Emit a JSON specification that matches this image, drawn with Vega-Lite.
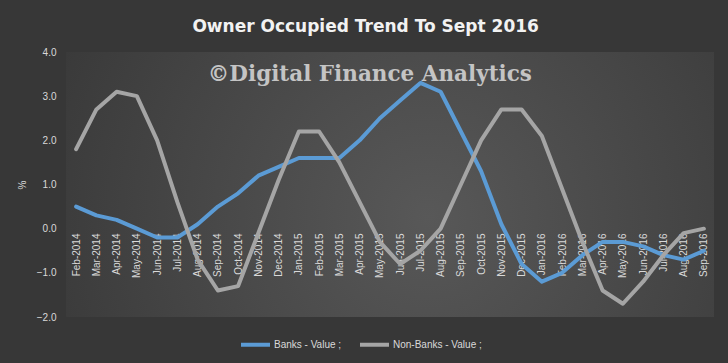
{
  "$schema": "https://vega.github.io/schema/vega-lite/v6.json",
  "width": 648,
  "height": 265,
  "autosize": {"type": "none"},
  "padding": {"left": 66, "top": 52, "right": 14, "bottom": 46},
  "background": "#373737",
  "config": {
    "font": "Liberation Sans",
    "view": {
      "stroke": null,
      "fill": {
        "gradient": "radial",
        "x1": 0.56, "y1": 0.55, "r1": 0,
        "x2": 0.56, "y2": 0.55, "r2": 0.68,
        "stops": [
          {"offset": 0, "color": "#585858"},
          {"offset": 1, "color": "#373737"}
        ]
      }
    }
  },
  "title": {
    "text": "Owner Occupied Trend To Sept 2016",
    "font": "DejaVu Sans",
    "fontSize": 17,
    "fontWeight": "bold",
    "color": "#F2F2F2",
    "anchor": "middle",
    "frame": "bounds",
    "offset": 11
  },
  "layer": [
    {
      "data": {"values": [{"label": "©Digital Finance Analytics"}]},
      "mark": {
        "type": "text",
        "font": "DejaVu Serif",
        "fontWeight": "bold",
        "fontSize": 21.5,
        "color": "#C4C4C4",
        "align": "center",
        "baseline": "alphabetic",
        "dx": -10
      },
      "encoding": {
        "x": {"datum": "May-2015", "type": "ordinal"},
        "y": {"datum": 3.35, "type": "quantitative"},
        "text": {"field": "label", "type": "nominal"}
      }
    },
    {
      "data": {
        "values": [
          {"month": "Feb-2014", "series": "Banks - Value ;", "value": 0.5},
          {"month": "Mar-2014", "series": "Banks - Value ;", "value": 0.3},
          {"month": "Apr-2014", "series": "Banks - Value ;", "value": 0.2},
          {"month": "May-2014", "series": "Banks - Value ;", "value": 0.0},
          {"month": "Jun-2014", "series": "Banks - Value ;", "value": -0.2},
          {"month": "Jul-2014", "series": "Banks - Value ;", "value": -0.2},
          {"month": "Aug-2014", "series": "Banks - Value ;", "value": 0.1},
          {"month": "Sep-2014", "series": "Banks - Value ;", "value": 0.5},
          {"month": "Oct-2014", "series": "Banks - Value ;", "value": 0.8},
          {"month": "Nov-2014", "series": "Banks - Value ;", "value": 1.2},
          {"month": "Dec-2014", "series": "Banks - Value ;", "value": 1.4},
          {"month": "Jan-2015", "series": "Banks - Value ;", "value": 1.6},
          {"month": "Feb-2015", "series": "Banks - Value ;", "value": 1.6},
          {"month": "Mar-2015", "series": "Banks - Value ;", "value": 1.6},
          {"month": "Apr-2015", "series": "Banks - Value ;", "value": 2.0},
          {"month": "May-2015", "series": "Banks - Value ;", "value": 2.5},
          {"month": "Jun-2015", "series": "Banks - Value ;", "value": 2.9},
          {"month": "Jul-2015", "series": "Banks - Value ;", "value": 3.3},
          {"month": "Aug-2015", "series": "Banks - Value ;", "value": 3.1},
          {"month": "Sep-2015", "series": "Banks - Value ;", "value": 2.2},
          {"month": "Oct-2015", "series": "Banks - Value ;", "value": 1.3},
          {"month": "Nov-2015", "series": "Banks - Value ;", "value": 0.1},
          {"month": "Dec-2015", "series": "Banks - Value ;", "value": -0.8},
          {"month": "Jan-2016", "series": "Banks - Value ;", "value": -1.2},
          {"month": "Feb-2016", "series": "Banks - Value ;", "value": -1.0},
          {"month": "Mar-2016", "series": "Banks - Value ;", "value": -0.6},
          {"month": "Apr-2016", "series": "Banks - Value ;", "value": -0.3},
          {"month": "May-2016", "series": "Banks - Value ;", "value": -0.3},
          {"month": "Jun-2016", "series": "Banks - Value ;", "value": -0.4},
          {"month": "Jul-2016", "series": "Banks - Value ;", "value": -0.6},
          {"month": "Aug-2016", "series": "Banks - Value ;", "value": -0.7},
          {"month": "Sep-2016", "series": "Banks - Value ;", "value": -0.5},
          {"month": "Feb-2014", "series": "Non-Banks - Value ;", "value": 1.8},
          {"month": "Mar-2014", "series": "Non-Banks - Value ;", "value": 2.7},
          {"month": "Apr-2014", "series": "Non-Banks - Value ;", "value": 3.1},
          {"month": "May-2014", "series": "Non-Banks - Value ;", "value": 3.0},
          {"month": "Jun-2014", "series": "Non-Banks - Value ;", "value": 2.0},
          {"month": "Jul-2014", "series": "Non-Banks - Value ;", "value": 0.6},
          {"month": "Aug-2014", "series": "Non-Banks - Value ;", "value": -0.7},
          {"month": "Sep-2014", "series": "Non-Banks - Value ;", "value": -1.4},
          {"month": "Oct-2014", "series": "Non-Banks - Value ;", "value": -1.3},
          {"month": "Nov-2014", "series": "Non-Banks - Value ;", "value": -0.1},
          {"month": "Dec-2014", "series": "Non-Banks - Value ;", "value": 1.1},
          {"month": "Jan-2015", "series": "Non-Banks - Value ;", "value": 2.2},
          {"month": "Feb-2015", "series": "Non-Banks - Value ;", "value": 2.2},
          {"month": "Mar-2015", "series": "Non-Banks - Value ;", "value": 1.5},
          {"month": "Apr-2015", "series": "Non-Banks - Value ;", "value": 0.6},
          {"month": "May-2015", "series": "Non-Banks - Value ;", "value": -0.3},
          {"month": "Jun-2015", "series": "Non-Banks - Value ;", "value": -0.8},
          {"month": "Jul-2015", "series": "Non-Banks - Value ;", "value": -0.5},
          {"month": "Aug-2015", "series": "Non-Banks - Value ;", "value": 0.0},
          {"month": "Sep-2015", "series": "Non-Banks - Value ;", "value": 1.0},
          {"month": "Oct-2015", "series": "Non-Banks - Value ;", "value": 2.0},
          {"month": "Nov-2015", "series": "Non-Banks - Value ;", "value": 2.7},
          {"month": "Dec-2015", "series": "Non-Banks - Value ;", "value": 2.7},
          {"month": "Jan-2016", "series": "Non-Banks - Value ;", "value": 2.1},
          {"month": "Feb-2016", "series": "Non-Banks - Value ;", "value": 0.9},
          {"month": "Mar-2016", "series": "Non-Banks - Value ;", "value": -0.3},
          {"month": "Apr-2016", "series": "Non-Banks - Value ;", "value": -1.4},
          {"month": "May-2016", "series": "Non-Banks - Value ;", "value": -1.7},
          {"month": "Jun-2016", "series": "Non-Banks - Value ;", "value": -1.2},
          {"month": "Jul-2016", "series": "Non-Banks - Value ;", "value": -0.6},
          {"month": "Aug-2016", "series": "Non-Banks - Value ;", "value": -0.1},
          {"month": "Sep-2016", "series": "Non-Banks - Value ;", "value": 0.0}
        ]
      },
      "mark": {"type": "line", "strokeWidth": 4, "strokeJoin": "round", "strokeCap": "round"},
      "encoding": {
        "x": {
          "field": "month",
          "type": "ordinal",
          "sort": null,
          "scale": {
            "type": "point",
            "padding": 0.5,
            "domain": ["Feb-2014", "Mar-2014", "Apr-2014", "May-2014", "Jun-2014", "Jul-2014", "Aug-2014", "Sep-2014", "Oct-2014", "Nov-2014", "Dec-2014", "Jan-2015", "Feb-2015", "Mar-2015", "Apr-2015", "May-2015", "Jun-2015", "Jul-2015", "Aug-2015", "Sep-2015", "Oct-2015", "Nov-2015", "Dec-2015", "Jan-2016", "Feb-2016", "Mar-2016", "Apr-2016", "May-2016", "Jun-2016", "Jul-2016", "Aug-2016", "Sep-2016"]
          },
          "axis": {
            "title": null,
            "labelAngle": -90,
            "offset": -88,
            "domain": false,
            "ticks": false,
            "grid": false,
            "labelPadding": 4,
            "labelColor": "#D9D9D9",
            "labelFontSize": 10
          }
        },
        "y": {
          "field": "value",
          "type": "quantitative",
          "scale": {"domain": [-2, 4], "nice": false, "zero": false},
          "axis": {
            "title": "%",
            "values": [-2, -1, 0, 1, 2, 3, 4],
            "format": ".1f",
            "domain": false,
            "ticks": false,
            "labelPadding": 10,
            "titlePadding": 9,
            "gridColor": "#5E5E5E",
            "gridWidth": 1,
            "labelColor": "#D9D9D9",
            "titleColor": "#D9D9D9",
            "labelFontSize": 10,
            "titleFontSize": 10,
            "titleFontWeight": "normal"
          }
        },
        "color": {
          "field": "series",
          "type": "nominal",
          "scale": {"domain": ["Banks - Value ;", "Non-Banks - Value ;"], "range": ["#5B9BD5", "#A5A5A5"]},
          "legend": {
            "orient": "none",
            "legendX": 173,
            "legendY": 276,
            "direction": "horizontal",
            "title": null,
            "symbolType": "stroke",
            "symbolSize": 841,
            "symbolStrokeWidth": 4,
            "labelOffset": 2,
            "labelFontSize": 10,
            "labelColor": "#D9D9D9",
            "columnPadding": 10
          }
        }
      }
    }
  ]
}
